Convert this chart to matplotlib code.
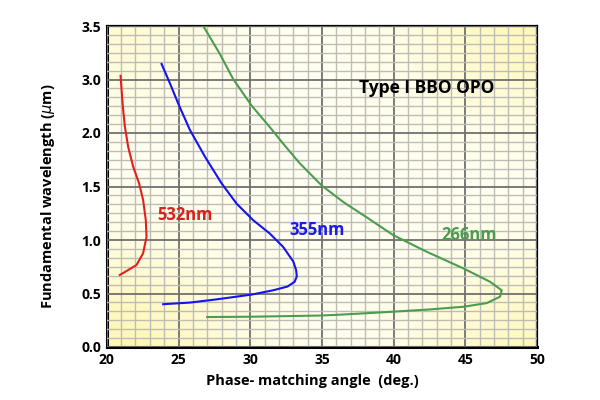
import numpy as np
import matplotlib
matplotlib.use('Agg')
import matplotlib.pyplot as plt
from matplotlib.ticker import FixedLocator

plt.rcParams['font.family'] = ['Open Sans', 'DejaVu Sans']

# 数据: (相位匹配角 deg, 基频波长 um)
angle_532 = [20.96, 21.10, 21.26, 21.49, 21.84, 22.25, 22.53, 22.72, 22.77, 22.53, 22.07, 20.91]
wl_532 = [3.035, 2.55, 2.12, 1.87, 1.685, 1.53, 1.375, 1.185, 1.03, 0.875, 0.766, 0.673]

angle_355 = [23.82, 24.40, 24.98, 25.79, 26.84, 28.0, 29.05, 30.21, 31.37, 32.30, 33.0,
             33.2, 33.25, 33.1, 32.6, 31.6, 30.1, 27.65, 25.79, 23.93]
wl_355 = [3.145, 2.93, 2.55, 2.06, 1.78, 1.53, 1.34, 1.185, 1.06, 0.935, 0.80,
          0.72, 0.66, 0.61, 0.565, 0.53, 0.49, 0.445, 0.415, 0.40]

angle_266 = [26.77, 27.88, 28.81, 30.10, 31.37, 32.30, 33.47, 34.98, 36.49, 38.2, 39.98,
             42.31, 44.86, 46.72, 47.54, 47.42, 46.49, 44.86, 42.4, 39.98, 36.26, 34.9, 30.1, 27.0]
wl_266 = [3.49, 3.24, 3.005, 2.51, 2.11, 1.90, 1.715, 1.51, 1.355, 1.205, 1.045,
          0.89, 0.735, 0.61, 0.53, 0.47, 0.41, 0.376, 0.35, 0.33, 0.302, 0.294, 0.283, 0.28]

x_ticks = [20, 25, 30, 35, 40, 45, 50]
y_ticks = [0.0, 0.5, 1.0, 1.5, 2.0, 3.0, 3.5]
y_labels = ['0.0', '0.5', '1.0', '1.5', '2.0', '3.0', '3.5']

# y 轴刻度等距, 但数值不均匀 (原图如此)
pos = np.arange(len(y_ticks), dtype=float)
def fwd(v):
    return np.interp(v, y_ticks, pos)
def inv(p):
    return np.interp(p, pos, y_ticks)

fig = plt.figure(figsize=(6, 4), dpi=100)
ax = fig.add_axes([0.178, 0.1325, 0.717, 0.8025])
ax.set_yscale('function', functions=(fwd, inv))
ax.set_xlim(20, 50)
ax.set_ylim(0, 3.5)

# 背景渐变 (淡黄)
gx, gy = np.meshgrid(np.linspace(0, 1, 200), np.linspace(0, 1, 200))
w = np.zeros_like(gx)
for cx, cy, s, a in [(0, 0, 0.3, 1.0), (1, 1, 0.28, 0.9), (1, 0, 0.28, 0.8), (0, 1, 0.25, 0.5)]:
    w = np.maximum(w, a * np.exp(-((gx - cx) ** 2 + (gy - cy) ** 2) / s ** 2))
c0 = np.array([1.0, 1.0, 0.95])
c1 = np.array([1.0, 0.97, 0.72])
img = c0[None, None, :] * (1 - w[..., None]) + c1[None, None, :] * w[..., None]
ax.imshow(img, extent=[0, 1, 0, 1], transform=ax.transAxes, origin='lower',
          aspect='auto', zorder=0)

# 网格
minor_y = []
for a, b in zip(y_ticks[:-1], y_ticks[1:]):
    minor_y += list(np.linspace(a, b, 7)[1:-1])
ax.xaxis.set_major_locator(FixedLocator(x_ticks))
ax.xaxis.set_minor_locator(FixedLocator(np.arange(20, 51, 1)))
ax.yaxis.set_major_locator(FixedLocator(y_ticks))
ax.yaxis.set_minor_locator(FixedLocator(minor_y))
ax.set_yticklabels(y_labels)
ax.grid(which='minor', color='#bdbdb6', lw=1.0, zorder=1)
ax.grid(which='major', color='#707070', lw=1.3, zorder=2)
ax.set_axisbelow(False)
ax.tick_params(which='both', length=0)
ax.tick_params(axis='both', labelsize=10, pad=4)
for lab in ax.get_xticklabels() + ax.get_yticklabels():
    lab.set_fontweight('bold')

for sp in ['left', 'bottom']:
    ax.spines[sp].set_linewidth(2.2)
for sp in ['top', 'right']:
    ax.spines[sp].set_linewidth(1.6)

# 曲线
ax.plot(angle_532, wl_532, color='#e3201c', lw=1.5, zorder=5)
ax.plot(angle_355, wl_355, color='#1414f0', lw=1.5, zorder=5)
ax.plot(angle_266, wl_266, color='#4c9c50', lw=1.5, zorder=5)

ax.text(23.5, 1.235, '532nm', color='#d8201c', fontsize=12, fontweight='bold', va='center', zorder=6)
ax.text(32.75, 1.09, '355nm', color='#1c1ce8', fontsize=12, fontweight='bold', va='center', zorder=6)
ax.text(43.3, 1.05, '266nm', color='#4c9c50', fontsize=12, fontweight='bold', va='center', zorder=6)
ax.text(42.3, 2.85, 'Type I BBO OPO', color='black', fontsize=12.5, fontweight='bold',
        ha='center', va='center', zorder=6)

ax.set_xlabel('Phase- matching angle  (deg.)', fontsize=10.5, fontweight='bold')
ax.set_ylabel('Fundamental wavelength ($\\mu$m)', fontsize=10.5, fontweight='bold')
ax.xaxis.set_label_coords(0.477, -0.085)
ax.yaxis.set_label_coords(-0.115, 0.47)

plt.savefig('out.png', dpi=100)
